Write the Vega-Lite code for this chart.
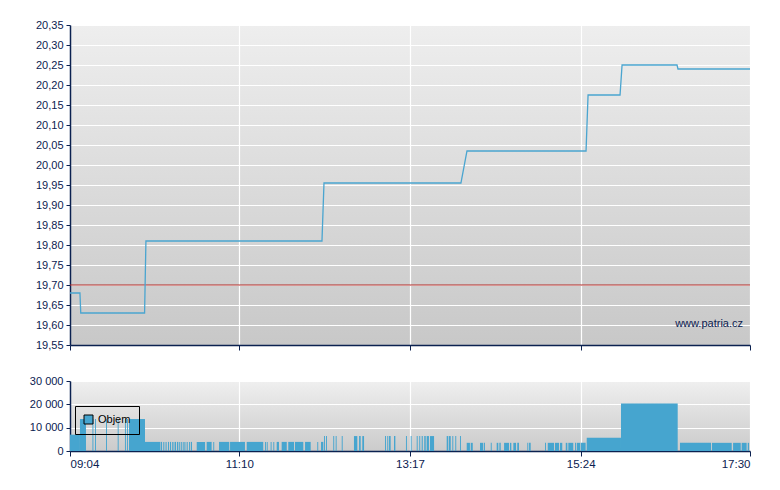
{
  "$schema": "https://vega.github.io/schema/vega-lite/v6.json",
  "background": "white",
  "padding": {"left": 29, "top": 19, "right": 5, "bottom": 5},
  "spacing": 24,
  "resolve": {"legend": {"color": "independent"}},
  "config": {
    "font": "Liberation Sans",
    "view": {"stroke": null},
    "axis": {
      "domainColor": "#0b2150",
      "domainWidth": 1.5,
      "tickColor": "#0b2150",
      "labelColor": "#0b2150",
      "labelFont": "Liberation Sans",
      "labelFontSize": 11,
      "gridColor": "#ffffff",
      "gridOpacity": 1,
      "gridWidth": 1.2,
      "title": null
    }
  },
  "vconcat": [
    {
      "width": 680,
      "height": 320,
      "view": {
        "stroke": null,
        "fill": {"gradient": "linear", "x1": 0, "y1": 0, "x2": 0, "y2": 1,
          "stops": [{"offset": 0, "color": "#eeeeee"}, {"offset": 1, "color": "#c8c8c8"}]}
      },
      "layer": [
        {
          "data": {"values": [{"ref": 19.70}]},
          "mark": {"type": "rule", "color": "#b02a26", "strokeWidth": 1},
          "encoding": {
            "y": {"field": "ref", "type": "quantitative", "scale": {"domain": [19.55, 20.35], "nice": false, "zero": false},
              "axis": {"values": [19.55, 19.6, 19.65, 19.7, 19.75, 19.8, 19.85, 19.9, 19.95, 20.0, 20.05, 20.1, 20.15, 20.2, 20.25, 20.3, 20.35],
                "tickCount": 40, "labelOverlap": false,
                "labelExpr": "replace(format(datum.value, '.2f'), '.', ',')", "tickSize": 4, "labelPadding": 3}}
          }
        },
        {
          "data": {"values": [
            {"t": 544, "price": 19.68}, {"t": 551.4, "price": 19.68}, {"t": 552, "price": 19.63},
            {"t": 599.5, "price": 19.63}, {"t": 600.5, "price": 19.81}, {"t": 731.5, "price": 19.81},
            {"t": 733, "price": 19.955}, {"t": 834.9, "price": 19.955}, {"t": 839.4, "price": 20.035},
            {"t": 928, "price": 20.035}, {"t": 929.5, "price": 20.175}, {"t": 953.3, "price": 20.175},
            {"t": 954.8, "price": 20.25}, {"t": 995.7, "price": 20.25}, {"t": 996.4, "price": 20.24},
            {"t": 1050, "price": 20.24}
          ]},
          "mark": {"type": "line", "color": "#4aa5d0", "strokeWidth": 1.3},
          "encoding": {
            "x": {"field": "t", "type": "quantitative", "scale": {"domain": [544, 1050], "nice": false, "zero": false},
              "axis": {"values": [544, 670, 797, 924, 1050], "tickCount": 20, "labels": false, "tickSize": 5}},
            "y": {"field": "price", "type": "quantitative"}
          }
        },
        {
          "data": {"values": [{"t": 1050, "price": 19.55, "label": "www.patria.cz"}]},
          "mark": {"type": "text", "align": "right", "baseline": "alphabetic", "dx": -7, "dy": -18, "color": "#0b2150", "fontSize": 11},
          "encoding": {
            "x": {"field": "t", "type": "quantitative"},
            "y": {"field": "price", "type": "quantitative"},
            "text": {"field": "label"}
          }
        }
      ]
    },
    {
      "width": 680,
      "height": 70,
      "view": {
        "stroke": null,
        "fill": {"gradient": "linear", "x1": 0, "y1": 0, "x2": 0, "y2": 1,
          "stops": [{"offset": 0, "color": "#efefef"}, {"offset": 1, "color": "#cbcbcb"}]}
      },
      "data": {"values": [
        {"t0": 544, "t1": 551.4, "v": 7000},
        {"t0": 551.4, "t1": 555.9, "v": 13700},
        {"t0": 560.7, "t1": 561.4, "v": 13700},
        {"t0": 562.6, "t1": 563.3, "v": 13700},
        {"t0": 570.8, "t1": 571.5, "v": 13700},
        {"t0": 579.5, "t1": 580.2, "v": 13700},
        {"t0": 584.9, "t1": 585.6, "v": 13700},
        {"t0": 586.4, "t1": 587.1, "v": 13700},
        {"t0": 587.9, "t1": 599.8, "v": 13700},
        {"t0": 599.8, "t1": 611.3, "v": 3900},
        {"t0": 611.7, "t1": 612.5, "v": 3900},
        {"t0": 613.4, "t1": 614.2, "v": 3900},
        {"t0": 615.1, "t1": 615.9, "v": 3900},
        {"t0": 616.9, "t1": 617.7, "v": 3900},
        {"t0": 618.4, "t1": 619.2, "v": 3900},
        {"t0": 619.9, "t1": 620.5, "v": 3900},
        {"t0": 621.0, "t1": 621.7, "v": 3900},
        {"t0": 622.1, "t1": 622.9, "v": 3900},
        {"t0": 623.6, "t1": 624.4, "v": 3900},
        {"t0": 624.9, "t1": 625.7, "v": 3900},
        {"t0": 626.4, "t1": 627.2, "v": 3900},
        {"t0": 627.9, "t1": 628.6, "v": 3900},
        {"t0": 629.1, "t1": 629.9, "v": 3900},
        {"t0": 630.8, "t1": 631.6, "v": 3900},
        {"t0": 632.6, "t1": 633.4, "v": 3900},
        {"t0": 634.0, "t1": 634.8, "v": 3900},
        {"t0": 638.3, "t1": 644.5, "v": 3900},
        {"t0": 645.7, "t1": 649.4, "v": 3900},
        {"t0": 650.6, "t1": 651.3, "v": 3900},
        {"t0": 654.9, "t1": 662.5, "v": 3900},
        {"t0": 663.1, "t1": 674.2, "v": 3900},
        {"t0": 675.5, "t1": 687.8, "v": 3900},
        {"t0": 689.1, "t1": 689.8, "v": 3900},
        {"t0": 690.4, "t1": 691.1, "v": 3900},
        {"t0": 693.3, "t1": 694.0, "v": 3900},
        {"t0": 695.3, "t1": 696.0, "v": 3900},
        {"t0": 697.8, "t1": 699.5, "v": 3900},
        {"t0": 701.5, "t1": 705.3, "v": 3900},
        {"t0": 706.4, "t1": 710.7, "v": 3900},
        {"t0": 711.4, "t1": 717.6, "v": 3900},
        {"t0": 718.9, "t1": 723.1, "v": 3900},
        {"t0": 728.0, "t1": 728.7, "v": 3900},
        {"t0": 730.8, "t1": 732.5, "v": 3900},
        {"t0": 733.0, "t1": 733.7, "v": 6400},
        {"t0": 734.5, "t1": 735.2, "v": 6400},
        {"t0": 739.9, "t1": 740.6, "v": 6400},
        {"t0": 741.7, "t1": 742.4, "v": 6400},
        {"t0": 746.2, "t1": 746.9, "v": 6400},
        {"t0": 755.3, "t1": 757.8, "v": 6400},
        {"t0": 759.1, "t1": 760.3, "v": 6400},
        {"t0": 761.5, "t1": 762.8, "v": 6400},
        {"t0": 778.4, "t1": 779.1, "v": 6400},
        {"t0": 780.1, "t1": 780.8, "v": 6400},
        {"t0": 781.4, "t1": 782.6, "v": 6400},
        {"t0": 785.1, "t1": 786.1, "v": 6400},
        {"t0": 794.0, "t1": 794.7, "v": 6400},
        {"t0": 797.5, "t1": 798.2, "v": 6400},
        {"t0": 802.0, "t1": 802.7, "v": 6400},
        {"t0": 803.9, "t1": 804.6, "v": 6400},
        {"t0": 805.7, "t1": 806.5, "v": 6400},
        {"t0": 807.6, "t1": 808.7, "v": 6400},
        {"t0": 809.4, "t1": 811.1, "v": 6400},
        {"t0": 811.9, "t1": 814.9, "v": 6400},
        {"t0": 824.3, "t1": 825.5, "v": 6400},
        {"t0": 826.0, "t1": 827.3, "v": 6400},
        {"t0": 828.5, "t1": 829.2, "v": 6400},
        {"t0": 830.7, "t1": 831.4, "v": 6400},
        {"t0": 834.2, "t1": 834.9, "v": 6400},
        {"t0": 839.2, "t1": 841.6, "v": 3500},
        {"t0": 842.2, "t1": 843.7, "v": 3500},
        {"t0": 849.1, "t1": 851.5, "v": 3500},
        {"t0": 852.1, "t1": 852.8, "v": 3500},
        {"t0": 857.1, "t1": 857.8, "v": 3500},
        {"t0": 861.5, "t1": 862.7, "v": 3500},
        {"t0": 863.5, "t1": 864.5, "v": 3500},
        {"t0": 867.0, "t1": 870.7, "v": 3500},
        {"t0": 871.4, "t1": 872.4, "v": 3500},
        {"t0": 873.9, "t1": 875.9, "v": 3500},
        {"t0": 876.8, "t1": 878.1, "v": 3500},
        {"t0": 884.3, "t1": 885.0, "v": 3500},
        {"t0": 885.6, "t1": 886.8, "v": 3500},
        {"t0": 897.5, "t1": 898.2, "v": 3500},
        {"t0": 899.5, "t1": 904.2, "v": 3500},
        {"t0": 904.9, "t1": 907.9, "v": 3500},
        {"t0": 908.6, "t1": 910.3, "v": 3500},
        {"t0": 912.9, "t1": 914.1, "v": 3500},
        {"t0": 914.8, "t1": 918.5, "v": 3500},
        {"t0": 919.8, "t1": 920.5, "v": 3500},
        {"t0": 921.1, "t1": 923.5, "v": 3500},
        {"t0": 924.0, "t1": 927.7, "v": 3500},
        {"t0": 928.5, "t1": 954.0, "v": 5700},
        {"t0": 954.0, "t1": 996.2, "v": 20400},
        {"t0": 997.9, "t1": 1021.0, "v": 3500},
        {"t0": 1021.7, "t1": 1036.4, "v": 3500},
        {"t0": 1037.4, "t1": 1043.1, "v": 3500},
        {"t0": 1043.8, "t1": 1047.5, "v": 3500},
        {"t0": 1048.3, "t1": 1049.3, "v": 3500}
      ]},
      "mark": {"type": "rect"},
      "encoding": {
        "x": {"field": "t0", "type": "quantitative", "scale": {"domain": [544, 1050], "nice": false, "zero": false},
          "axis": {"values": [544, 670, 797, 924, 1050], "tickCount": 20, "tickSize": 5, "labelPadding": 2, "labelFontSize": 11.5,
            "labelExpr": "(floor(datum.value / 60) < 10 ? '0' : '') + floor(datum.value / 60) + ':' + (datum.value % 60 < 10 ? '0' : '') + (datum.value % 60)"}},
        "x2": {"field": "t1"},
        "y": {"field": "v", "type": "quantitative", "scale": {"domain": [0, 30000], "nice": false},
          "axis": {"values": [0, 10000, 20000, 30000], "tickCount": 10, "tickSize": 4, "labelPadding": 3,
            "labelExpr": "replace(format(datum.value, ','), ',', ' ')"}},
        "y2": {"datum": 0},
        "color": {"datum": "Objem", "type": "nominal", "scale": {"range": ["#46a5cf"]},
          "legend": {"orient": "none", "legendX": 5, "legendY": 25, "title": null, "strokeColor": "#000000",
            "padding": 8, "symbolType": "square", "symbolSize": 81, "symbolStrokeColor": "#000000",
            "symbolStrokeWidth": 1, "labelOffset": 4, "labelFontSize": 11, "labelColor": "#000000", "labelFont": "Liberation Sans"}}
      }
    }
  ]
}
